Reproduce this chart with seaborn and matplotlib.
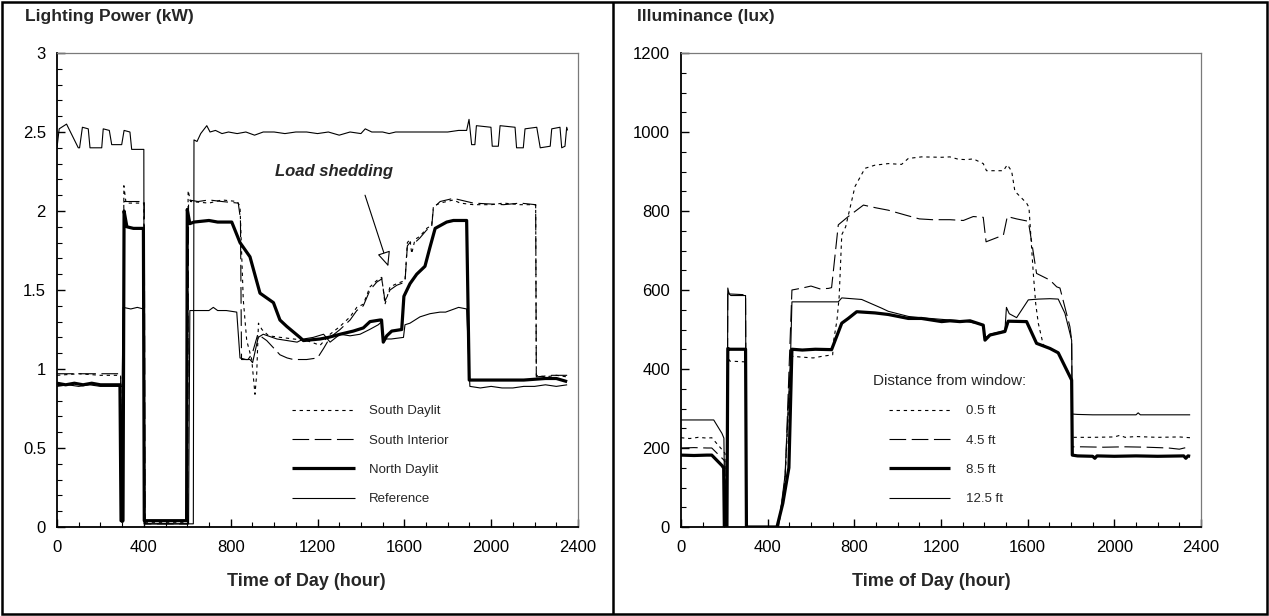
import matplotlib
matplotlib.use("Agg")
import matplotlib.pyplot as plt
from matplotlib.lines import Line2D
from matplotlib.patches import Rectangle, FancyArrowPatch
from matplotlib.ticker import MultipleLocator, FuncFormatter
import seaborn as sns

# ── Lighting power (kW) ───────────────────────────────────────────────────────
ref_hi_t = [0, 10, 44, 98, 104, 117, 144, 152, 206, 213, 241, 252, 298, 309, 336, 344, 400, 402, 500, 628,
            631, 645, 662, 690, 705, 730, 760, 790, 830, 870, 910, 950, 1000, 1050, 1100, 1150, 1200, 1250,
            1300, 1350, 1400, 1420, 1450, 1500, 1530, 1560, 1600, 1650, 1700, 1750, 1800, 1850, 1887, 1898,
            1910, 1925, 1932, 1999, 2005, 2033, 2041, 2110, 2117, 2148, 2156, 2210, 2226, 2272, 2279, 2317,
            2325, 2340, 2348, 2352]
ref_hi_kw = [2.40, 2.52, 2.55, 2.40, 2.40, 2.53, 2.52, 2.40, 2.40, 2.52, 2.51, 2.42, 2.42, 2.51, 2.50, 2.39,
             2.39, 0.02, 0.02, 0.02, 2.45, 2.44, 2.49, 2.54, 2.50, 2.51, 2.49, 2.50, 2.49, 2.50, 2.48, 2.50,
             2.50, 2.49, 2.50, 2.50, 2.49, 2.50, 2.48, 2.50, 2.49, 2.52, 2.50, 2.50, 2.49, 2.50, 2.50, 2.50,
             2.50, 2.50, 2.50, 2.51, 2.51, 2.58, 2.42, 2.42, 2.54, 2.53, 2.41, 2.41, 2.54, 2.53, 2.40, 2.40,
             2.52, 2.53, 2.40, 2.41, 2.52, 2.53, 2.40, 2.41, 2.53, 2.51]

ref_lo_t = [0, 50, 100, 150, 200, 250, 300, 305, 340, 370, 398, 402, 500, 606, 612, 650, 700, 720, 740, 780,
            828, 843, 870, 889, 901, 927, 950, 1013, 1060, 1106, 1136, 1180, 1228, 1258, 1304, 1350, 1396,
            1440, 1480, 1496, 1503, 1540, 1596, 1603, 1626, 1672, 1718, 1764, 1790, 1810, 1850, 1887, 1902,
            1950, 2000, 2050, 2100, 2150, 2200, 2250, 2300, 2350]
ref_lo_kw = [0.89, 0.90, 0.89, 0.90, 0.89, 0.89, 0.89, 1.39, 1.38, 1.39, 1.38, 0.02, 0.02, 0.02, 1.37, 1.37,
             1.37, 1.39, 1.37, 1.37, 1.36, 1.07, 1.06, 1.06, 1.04, 1.20, 1.22, 1.19, 1.18, 1.17, 1.19, 1.20,
             1.22, 1.17, 1.22, 1.21, 1.22, 1.25, 1.28, 1.30, 1.19, 1.19, 1.20, 1.28, 1.29, 1.33, 1.35, 1.36,
             1.36, 1.37, 1.39, 1.38, 0.89, 0.88, 0.89, 0.88, 0.88, 0.89, 0.89, 0.90, 0.89, 0.90]

north_t = [0, 40, 80, 120, 160, 200, 240, 290, 295, 304, 309, 322, 352, 398, 402, 500, 597, 600, 612, 631, 700,
           740, 805, 843, 889, 935, 966, 997, 1027, 1058, 1119, 1135, 1212, 1250, 1304, 1365, 1411, 1442, 1488,
           1495, 1503, 1519, 1542, 1588, 1598, 1626, 1657, 1695, 1718, 1742, 1795, 1826, 1887, 1899, 1950,
           2050, 2150, 2250, 2300, 2350]
north_kw = [0.91, 0.90, 0.91, 0.90, 0.91, 0.90, 0.90, 0.90, 0.04, 0.04, 2.00, 1.90, 1.89, 1.89, 0.04, 0.04,
            0.04, 2.01, 1.92, 1.93, 1.94, 1.93, 1.93, 1.80, 1.71, 1.48, 1.45, 1.42, 1.31, 1.27, 1.20, 1.18,
            1.19, 1.20, 1.22, 1.24, 1.26, 1.30, 1.31, 1.31, 1.17, 1.21, 1.24, 1.25, 1.46, 1.54, 1.60, 1.65,
            1.77, 1.89, 1.93, 1.94, 1.94, 0.93, 0.93, 0.93, 0.93, 0.94, 0.94, 0.92]

south_day_t = [0, 100, 200, 293, 297, 304, 308, 318, 360, 400, 404, 600, 604, 615, 700, 760, 830, 843, 858,
               874, 897, 912, 920, 928, 944, 975, 1030, 1090, 1150, 1212, 1258, 1304, 1350, 1381, 1411, 1442,
               1473, 1496, 1511, 1534, 1565, 1603, 1614, 1626, 1634, 1649, 1672, 1703, 1726, 1734, 1765, 1795,
               1826, 1857, 1918, 2000, 2057, 2134, 2205, 2208, 2250, 2300, 2350]
south_day_kw = [0.96, 0.97, 0.96, 0.96, 0.03, 0.03, 2.16, 2.05, 2.05, 2.05, 0.03, 0.03, 2.13, 2.06, 2.05,
                2.07, 2.06, 2.03, 1.44, 1.18, 1.06, 0.84, 0.97, 1.29, 1.25, 1.21, 1.20, 1.19, 1.18, 1.15,
                1.22, 1.27, 1.33, 1.39, 1.41, 1.52, 1.56, 1.58, 1.41, 1.52, 1.54, 1.56, 1.80, 1.82, 1.73,
                1.82, 1.84, 1.89, 1.91, 2.03, 2.05, 2.06, 2.07, 2.05, 2.04, 2.04, 2.05, 2.04, 2.04, 0.96,
                0.95, 0.96, 0.95]

south_int_t = [0, 100, 200, 293, 297, 304, 308, 360, 402, 406, 602, 606, 650, 700, 760, 835, 845, 850, 880,
               900, 925, 966, 1000, 1027, 1060, 1089, 1150, 1200, 1228, 1258, 1304, 1350, 1381, 1411, 1442,
               1473, 1496, 1511, 1534, 1565, 1603, 1614, 1626, 1649, 1672, 1703, 1726, 1734, 1765, 1826, 1918,
               2057, 2134, 2205, 2208, 2280, 2350]
south_int_kw = [0.97, 0.97, 0.97, 0.97, 0.03, 0.03, 2.06, 2.06, 2.06, 0.02, 0.02, 2.07, 2.06, 2.07, 2.06,
                2.05, 1.95, 1.06, 1.06, 1.10, 1.22, 1.18, 1.13, 1.09, 1.07, 1.06, 1.06, 1.07, 1.13, 1.20,
                1.25, 1.31, 1.37, 1.40, 1.50, 1.55, 1.57, 1.43, 1.50, 1.53, 1.55, 1.78, 1.80, 1.80, 1.83,
                1.88, 1.90, 2.02, 2.06, 2.08, 2.05, 2.04, 2.05, 2.04, 0.95, 0.96, 0.96]

# ── Illuminance (lux) ─────────────────────────────────────────────────────────
d05_t = [0, 40, 80, 120, 142, 197, 203, 205, 212, 216, 225, 298, 302, 450, 480, 505, 515, 560, 610, 650, 700,
         704, 720, 730, 742, 760, 803, 849, 895, 957, 1018, 1049, 1110, 1203, 1241, 1280, 1318, 1349, 1395,
         1410, 1488, 1506, 1526, 1541, 1595, 1606, 1626, 1637, 1649, 1672, 1718, 1741, 1790, 1803, 1806,
         1900, 2000, 2025, 2050, 2100, 2200, 2300, 2350]
d05_lux = [226, 224, 227, 225, 226, 191, 186, 0, 0, 430, 420, 418, 0, 0, 120, 400, 432, 430, 428, 432, 436,
           470, 524, 583, 740, 760, 862, 908, 916, 920, 918, 933, 937, 936, 937, 931, 930, 932, 920, 902, 902,
           917, 901, 850, 820, 809, 642, 566, 516, 461, 448, 440, 390, 372, 227, 227, 228, 232, 227, 229, 227,
           228, 226]

d45_t = [0, 60, 120, 142, 197, 203, 205, 212, 216, 222, 298, 302, 450, 480, 500, 512, 560, 600, 640, 680,
         695, 726, 772, 842, 900, 957, 1034, 1100, 1160, 1241, 1303, 1349, 1395, 1408, 1488, 1506, 1549, 1603,
         1618, 1641, 1703, 1734, 1749, 1795, 1803, 1806, 1850, 1950, 2050, 2150, 2250, 2300, 2330, 2350]
d45_lux = [200, 201, 200, 200, 170, 165, 0, 0, 600, 590, 588, 0, 0, 110, 420, 600, 605, 610, 603, 604, 606,
           765, 786, 815, 808, 802, 790, 780, 778, 778, 776, 786, 784, 722, 739, 786, 780, 774, 723, 642, 625,
           608, 605, 507, 473, 203, 203, 202, 203, 202, 200, 197, 201, 200]

d85_t = [0, 60, 120, 142, 190, 197, 200, 212, 216, 225, 298, 302, 443, 470, 498, 512, 560, 620, 695, 742, 772,
         811, 895, 957, 1049, 1110, 1203, 1241, 1287, 1334, 1395, 1403, 1426, 1495, 1510, 1595, 1641, 1703,
         1741, 1803, 1806, 1830, 1900, 1910, 1920, 2000, 2100, 2200, 2320, 2330, 2340, 2350]
d85_lux = [182, 181, 182, 182, 155, 149, 0, 0, 452, 450, 450, 0, 0, 60, 150, 450, 448, 450, 449, 516, 528,
           545, 542, 538, 528, 528, 520, 522, 520, 522, 511, 473, 486, 495, 521, 520, 465, 452, 441, 372, 182,
           180, 179, 174, 180, 179, 180, 179, 180, 174, 180, 179]

d125_t = [0, 60, 120, 151, 189, 198, 203, 212, 216, 222, 230, 298, 302, 450, 480, 505, 512, 560, 620, 726,
          742, 834, 926, 957, 1000, 1050, 1100, 1150, 1241, 1300, 1395, 1403, 1426, 1495, 1502, 1515, 1549,
          1603, 1650, 1703, 1741, 1772, 1803, 1806, 1830, 1900, 2000, 2100, 2110, 2120, 2200, 2350]
d125_lux = [271, 271, 271, 271, 237, 225, 0, 0, 605, 590, 586, 586, 0, 0, 130, 420, 570, 570, 570, 570, 580,
            576, 554, 546, 540, 533, 530, 528, 524, 522, 512, 478, 488, 497, 556, 540, 530, 575, 577, 578,
            577, 541, 473, 286, 285, 284, 284, 284, 289, 284, 284, 284]

W, H = 1269, 616
FONT = ["Liberation Sans", "DejaVu Sans"]

sns.set_theme(style="white")
plt.rcParams["font.family"] = FONT
plt.rcParams["lines.solid_capstyle"] = "butt"

fig = plt.figure(figsize=(W / 100, H / 100), dpi=100)
fig.patch.set_facecolor("white")


def px_box(x0, y0, x1, y1):
    # pixel box (top-left origin) -> figure fraction rect
    return [x0 / W, 1 - y1 / H, (x1 - x0) / W, (y1 - y0) / H]


ax_p = fig.add_axes(px_box(57, 53, 578, 527))
ax_l = fig.add_axes(px_box(681, 53, 1201, 527))

THIN = 0.8
THICK = 2.3
DOT = (0, (3.0, 3.4))
DASH = (0, (15.0, 5.0))


def trace(ax, t, v, lw, ls="-"):
    sns.lineplot(x=t, y=v, ax=ax, estimator=None, sort=False, color="black",
                 linewidth=lw, linestyle=ls)


trace(ax_p, ref_hi_t, ref_hi_kw, THIN)
trace(ax_p, ref_lo_t, ref_lo_kw, THIN)
trace(ax_p, south_int_t, south_int_kw, THIN, DASH)
trace(ax_p, south_day_t, south_day_kw, THIN, DOT)
trace(ax_p, north_t, north_kw, THICK)

trace(ax_l, d125_t, d125_lux, THIN)
trace(ax_l, d45_t, d45_lux, THIN, DASH)
trace(ax_l, d05_t, d05_lux, THIN, DOT)
trace(ax_l, d85_t, d85_lux, THICK)


def style_axes(ax, ymax, ymajor, yminor):
    ax.set_xlim(0, 2400)
    ax.set_ylim(0, ymax)
    ax.set_xlabel("")
    ax.set_ylabel("")
    ax.xaxis.set_major_locator(MultipleLocator(400))
    ax.xaxis.set_minor_locator(MultipleLocator(100))
    ax.yaxis.set_major_locator(MultipleLocator(ymajor))
    ax.yaxis.set_minor_locator(MultipleLocator(yminor))
    ax.yaxis.set_major_formatter(FuncFormatter(lambda v, _: f"{v:g}"))
    ax.tick_params(which="both", direction="in", bottom=True, left=True, top=False, right=False,
                   color="black", labelsize=12, labelcolor="black")
    ax.tick_params(which="major", length=6, width=1.0)
    ax.tick_params(which="minor", length=3.5, width=0.8)
    ax.tick_params(axis="x", which="major", pad=9)
    ax.tick_params(axis="y", which="major", pad=8)
    for side in ("left", "bottom"):
        ax.spines[side].set_color("black")
        ax.spines[side].set_linewidth(1.3)
    for side in ("top", "right"):
        ax.spines[side].set_color("#7a7a7a")
        ax.spines[side].set_linewidth(0.9)
    ax.grid(False)


style_axes(ax_p, 3, 0.5, 0.1)
style_axes(ax_l, 1200, 200, 50)

# legends
def legend_handles():
    return [Line2D([], [], color="black", lw=THIN, ls=DOT),
            Line2D([], [], color="black", lw=THIN, ls=DASH),
            Line2D([], [], color="black", lw=THICK),
            Line2D([], [], color="black", lw=THIN)]


ax_p.legend(legend_handles(), ["South Daylit", "South Interior", "North Daylit", "Reference"],
            loc="upper left", bbox_to_anchor=((292 - 57) / 521, (527 - 405) / 474),
            frameon=False, fontsize=9.5, handlelength=4.8, handletextpad=1.0,
            labelspacing=1.3, borderpad=0, borderaxespad=0)

ax_l.legend(legend_handles(), ["0.5 ft", "4.5 ft", "8.5 ft", "12.5 ft"],
            loc="upper left", bbox_to_anchor=((889 - 681) / 520, (527 - 405) / 474),
            frameon=False, fontsize=9.5, handlelength=4.6, handletextpad=1.25,
            labelspacing=1.3, borderpad=0, borderaxespad=0)
ax_l.text((873 - 681) / 520, (527 - 381) / 474, "Distance from window:", transform=ax_l.transAxes,
          fontsize=11, ha="left", va="center")

# annotation: open-headed arrow
ax_p.add_patch(FancyArrowPatch((1419, 2.10), (1526, 1.65),
                               arrowstyle="-|>,head_length=9,head_width=4",
                               lw=0.8, edgecolor="black", facecolor="white",
                               shrinkA=0, shrinkB=0, zorder=5))
ax_p.text(1278, 2.25, "Load shedding", fontsize=12, fontweight="bold", fontstyle="italic",
          ha="center", va="center")

# panel titles and axis labels
fig.text(25 / W, 1 - 16 / H, "Lighting Power (kW)", fontsize=12.5, fontweight="bold", va="center")
fig.text(637 / W, 1 - 16 / H, "Illuminance (lux)", fontsize=12.5, fontweight="bold", va="center")
fig.text(306 / W, 1 - 582 / H, "Time of Day (hour)", fontsize=13, fontweight="bold",
         ha="center", va="center")
fig.text(931 / W, 1 - 582 / H, "Time of Day (hour)", fontsize=13, fontweight="bold",
         ha="center", va="center")

# panel frames
fig.add_artist(Rectangle((2 / W, 2 / H), 1265 / W, 612 / H, transform=fig.transFigure,
                         fill=False, edgecolor="black", lw=1.8))
fig.add_artist(Line2D([613 / W, 613 / W], [2 / H, 1 - 2 / H], transform=fig.transFigure,
                      color="black", lw=1.8))

fig.savefig("out.png", dpi=100)
